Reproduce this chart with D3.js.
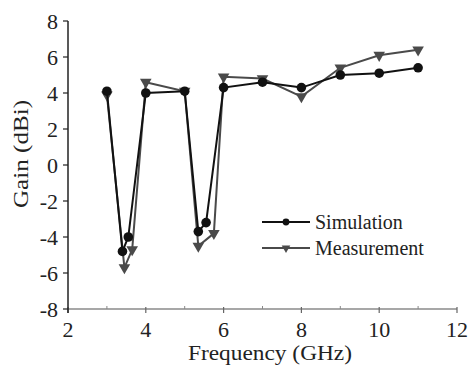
<!DOCTYPE html>
<html>
<head>
<meta charset="utf-8">
<script src="https://cdn.jsdelivr.net/npm/d3@7"></script>
<style>
  html, body { margin: 0; padding: 0; background: #fff; }
  svg { display: block; }
  text { font-family: "Liberation Serif", "Times New Roman", serif; fill: #222; }
</style>
</head>
<body>
<svg id="chart" width="469" height="366"></svg>
<script>
// Gain vs frequency: simulated and measured
const simFreq = [3.0, 3.4, 3.55, 4.0, 5.0, 5.35, 5.55, 6.0, 7.0, 8.0, 9.0, 10.0, 11.0];
const simGain = [4.1, -4.8, -4.0, 4.0, 4.1, -3.7, -3.2, 4.3, 4.6, 4.3, 5.0, 5.1, 5.4];
const measFreq = [3.0, 3.45, 3.65, 4.0, 5.0, 5.35, 5.75, 6.0, 7.0, 8.0, 9.0, 10.0, 11.0];
const measGain = [3.9, -5.7, -4.7, 4.6, 4.1, -4.5, -3.8, 4.9, 4.8, 3.8, 5.4, 6.1, 6.4];
const xTicks = [2, 4, 6, 8, 10, 12];
const xMinorTicks = [3, 5, 7, 9, 11];
const yTicks = [8, 6, 4, 2, 0, -2, -4, -6, -8];
const seriesNames = ["Simulation", "Measurement"];

const svg = d3.select("#chart");
const x = d3.scaleLinear().domain([2, 12]).range([68, 457]);
const y = d3.scaleLinear().domain([-8, 8]).range([309, 21]);

const simColor = "#111";
const measColor = "#4a4a4a";

// x axis (gray baseline)
const gx = svg.append("g").attr("transform", `translate(0,${y(-8)})`);
gx.append("line").attr("x1", x(2)).attr("x2", x(12)).attr("y1", 0).attr("y2", 0)
  .attr("stroke", "#8a8a8a").attr("stroke-width", 1.3);
gx.selectAll(".maj").data(xTicks).join("line")
  .attr("x1", d => x(d)).attr("x2", d => x(d)).attr("y1", -2).attr("y2", 4)
  .attr("stroke", "#666").attr("stroke-width", 1.2);
gx.selectAll(".min").data(xMinorTicks).join("line")
  .attr("x1", d => x(d)).attr("x2", d => x(d)).attr("y1", -3).attr("y2", 0)
  .attr("stroke", "#888").attr("stroke-width", 1);
gx.selectAll("text").data(xTicks).join("text")
  .attr("x", d => x(d)).attr("y", 28)
  .attr("text-anchor", "middle").attr("font-size", 22)
  .text(d => d);

// y axis
const gy = svg.append("g");
gy.append("line").attr("x1", x(2)).attr("x2", x(2)).attr("y1", y(8)).attr("y2", y(-8) + 4)
  .attr("stroke", "#222").attr("stroke-width", 1.5);
gy.selectAll("line.t").data(yTicks).join("line").attr("class", "t")
  .attr("x1", x(2) - 5).attr("x2", x(2)).attr("y1", d => y(d)).attr("y2", d => y(d))
  .attr("stroke", "#222").attr("stroke-width", 1.2);
gy.selectAll("text").data(yTicks).join("text")
  .attr("x", x(2) - 10).attr("y", d => y(d) + 7.5)
  .attr("text-anchor", "end").attr("font-size", 22)
  .text(d => d);

// axis titles
svg.append("text").attr("x", 270).attr("y", 360).attr("text-anchor", "middle")
  .attr("font-size", 22).attr("textLength", 164).attr("lengthAdjust", "spacingAndGlyphs")
  .text("Frequency (GHz)");
svg.append("text").attr("transform", `translate(28,154) rotate(-90)`)
  .attr("text-anchor", "middle").attr("font-size", 22)
  .attr("textLength", 108).attr("lengthAdjust", "spacingAndGlyphs")
  .text("Gain (dBi)");

const line = d3.line().x(d => x(d[0])).y(d => y(d[1]));
const simPts = simFreq.map((f, i) => [f, simGain[i]]);
const measPts = measFreq.map((f, i) => [f, measGain[i]]);

const tri = d3.symbol().type(d3.symbolTriangle).size(58);

// measurement series
svg.append("path").datum(measPts).attr("d", line)
  .attr("fill", "none").attr("stroke", measColor).attr("stroke-width", 2);
svg.selectAll(".mpt").data(measPts).join("path").attr("class", "mpt")
  .attr("d", tri)
  .attr("transform", d => `translate(${x(d[0])},${y(d[1])}) rotate(180)`)
  .attr("fill", measColor);

// simulation series
svg.append("path").datum(simPts).attr("d", line)
  .attr("fill", "none").attr("stroke", simColor).attr("stroke-width", 2);
svg.selectAll(".spt").data(simPts).join("circle").attr("class", "spt")
  .attr("cx", d => x(d[0])).attr("cy", d => y(d[1])).attr("r", 4.8)
  .attr("fill", simColor);

// legend
const legend = svg.append("g");
const legendRows = [
  { name: seriesNames[0], color: simColor, y: 222, marker: "circle" },
  { name: seriesNames[1], color: measColor, y: 248, marker: "tri" }
];
legendRows.forEach(r => {
  legend.append("line").attr("x1", 262).attr("x2", 310).attr("y1", r.y).attr("y2", r.y)
    .attr("stroke", r.color).attr("stroke-width", 2);
  if (r.marker === "circle") {
    legend.append("circle").attr("cx", 286).attr("cy", r.y).attr("r", 3.4).attr("fill", r.color);
  } else {
    legend.append("path").attr("d", d3.symbol().type(d3.symbolTriangle).size(32))
      .attr("transform", `translate(286,${r.y}) rotate(180)`).attr("fill", r.color);
  }
  legend.append("text").attr("x", 315).attr("y", r.y + 6.5).attr("font-size", 20).text(r.name);
});
</script>
</body>
</html>
